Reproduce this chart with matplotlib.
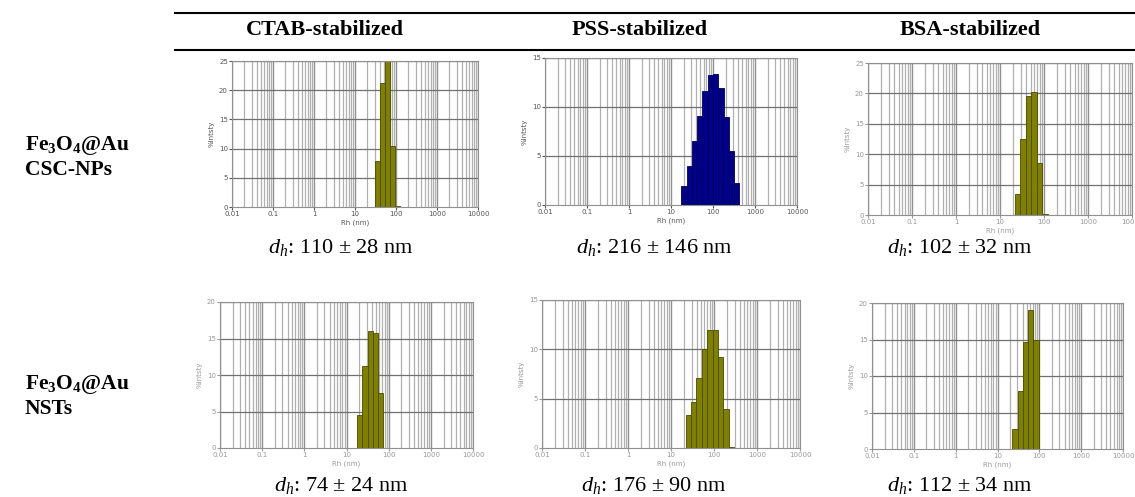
import numpy as np
import matplotlib
matplotlib.use("Agg")
import matplotlib.pyplot as plt

plt.rcParams['font.family'] = ['Liberation Serif', 'DejaVu Serif']
plt.rcParams['mathtext.fontset'] = 'custom'
plt.rcParams['mathtext.rm'] = 'Liberation Serif'
plt.rcParams['mathtext.it'] = 'Liberation Serif:italic'
plt.rcParams['mathtext.bf'] = 'Liberation Serif:bold'

col_titles = ["CTAB-stabilized", "PSS-stabilized", "BSA-stabilized"]
row_titles = [r"Fe$_\mathbf{3}$O$_\mathbf{4}$@Au" + "\nCSC-NPs",
              r"Fe$_\mathbf{3}$O$_\mathbf{4}$@Au" + "\nNSTs"]
dh_mean = [[110, 216, 102], [74, 176, 112]]
dh_sd = [[28, 146, 32], [24, 90, 34]]

xtick_vals = [0.01, 0.1, 1, 10, 100, 1000, 10000]
xtick_labels = ['0.01', '0.1', '1', '10', '100', '1000', '10000']

# size bins (nm) and % intensity for each panel
ctab_csc_rh = [35.0, 46.7, 62.2, 83.0, 110]
ctab_csc_int = [7.8, 21.2, 25.0, 10.5, 0.2]
pss_csc_rh = [20.5, 27.4, 36.5, 48.7, 64.9, 86.6, 115.5, 154, 205, 274, 365]
pss_csc_int = [1.9, 4.0, 6.5, 9.1, 11.6, 13.3, 13.4, 11.9, 9.0, 5.5, 2.2]
bsa_csc_rh = [24.9, 33.2, 44.3, 59.0, 78.7, 105]
bsa_csc_int = [3.5, 12.5, 19.5, 20.2, 8.5, 0.2]
ctab_nst_rh = [20.5, 27.4, 36.5, 48.7, 64.9]
ctab_nst_int = [4.5, 11.2, 16.0, 15.7, 7.6]
pss_nst_rh = [25.3, 33.7, 45.0, 60.0, 80.0, 106.7, 142, 190, 253]
pss_nst_int = [3.3, 4.7, 7.1, 10.0, 12.0, 12.0, 9.2, 4.0, 0.1]
bsa_nst_rh = [26.3, 35.1, 46.8, 62.4, 83.2]
bsa_nst_int = [2.7, 8.0, 14.6, 19.0, 15.0]

panels = [
    [(ctab_csc_rh, ctab_csc_int, 25), (pss_csc_rh, pss_csc_int, 15),
     (bsa_csc_rh, bsa_csc_int, 25)],
    [(ctab_nst_rh, ctab_nst_int, 20), (pss_nst_rh, pss_nst_int, 15),
     (bsa_nst_rh, bsa_nst_int, 20)],
]
bar_colors = [['#808000', '#00008b', '#808000'],
              ['#808000', '#808000', '#808000']]
bar_edges = [['#4a4a00', '#000050', '#4a4a00'],
             ['#4a4a00', '#4a4a00', '#4a4a00']]
# left, top, right, bottom in pixels
boxes = [[(232, 61, 478, 207), (545, 58, 797, 205), (868, 63, 1132, 215)],
         [(220, 302, 473, 448), (542, 300, 800, 448), (872, 303, 1123, 449)]]
text_dark = [[True, True, False], [False, False, False]]

W, H = 1135, 497
fig = plt.figure(figsize=(W / 100, H / 100), dpi=100)

for r in range(2):
    for c in range(3):
        rh, inten, ymax = panels[r][c]
        l, t, rr, b = boxes[r][c]
        ax = fig.add_axes([l / W, 1 - b / H, (rr - l) / W, (b - t) / H])
        tc = '#555555' if text_dark[r][c] else '#999999'
        # minor grid lines
        for dec in range(-2, 4):
            for m in range(2, 10):
                ax.axvline(m * 10.0 ** dec, color='#b0b0b0', lw=0.9, zorder=1)
        for v in xtick_vals:
            ax.axvline(v, color='#909090', lw=1.0, zorder=1)
        step = 5
        for y in np.arange(step, ymax + 0.1, step):
            ax.axhline(y, color='#707070', lw=0.9, zorder=1)
        rh = np.array(rh)
        left = rh / 10 ** 0.0625
        width = rh * 10 ** 0.0625 - left
        ax.bar(left, inten, width=width, align='edge', color=bar_colors[r][c],
               edgecolor=bar_edges[r][c], lw=0.6, zorder=2)
        ax.set_xscale('log')
        ax.set_xlim(0.01, 10000)
        ax.set_ylim(0, ymax)
        ax.set_xticks(xtick_vals)
        ax.set_xticklabels(xtick_labels)
        ax.minorticks_off()
        ax.set_yticks(np.arange(0, ymax + 0.1, step))
        ax.tick_params(labelsize=5, colors=tc, length=2, pad=1)
        for lab in ax.get_xticklabels() + ax.get_yticklabels():
            lab.set_family('DejaVu Sans')
        for s in ax.spines.values():
            s.set_color('#909090')
            s.set_linewidth(0.8)
        ax.set_xlabel('Rh (nm)', fontsize=5, color=tc, family='DejaVu Sans',
                      labelpad=2)
        ax.set_ylabel('%Intsty', fontsize=5, color=tc, family='DejaVu Sans',
                      labelpad=3)
        cap = r"$d_h$: " + f"{dh_mean[r][c]} ± {dh_sd[r][c]} nm"
        cx = [341, 654, 960][c]
        cy = [248, 486][r]
        fig.text(cx / W, 1 - cy / H, cap, fontsize=16, ha='center',
                 va='center')

for c, title in enumerate(col_titles):
    fig.text([325, 640, 970][c] / W, 1 - 30 / H, title, fontsize=16,
             fontweight='bold', ha='center', va='center')

for r, title in enumerate(row_titles):
    fig.text(25 / W, 1 - [157, 396][r] / H, title, fontsize=15.5,
             fontweight='bold', ha='left', va='center', linespacing=1.15)

fig.add_artist(plt.Line2D([175 / W, 1], [1 - 13 / H, 1 - 13 / H],
                          color='black', lw=1.5))
fig.add_artist(plt.Line2D([175 / W, 1], [1 - 50 / H, 1 - 50 / H],
                          color='black', lw=1.5))

fig.savefig('out.png', dpi=100)
